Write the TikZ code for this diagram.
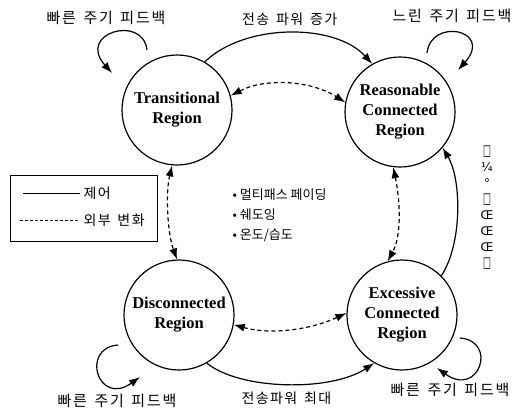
\documentclass[tikz,border=0pt]{standalone}
\usepackage{fontspec}
\setmainfont{Liberation Serif}
\newfontfamily\krfont{Noto Sans CJK KR}
\newfontfamily\krwide[LetterSpace=12]{Noto Sans CJK KR}
\newfontfamily\krmid[LetterSpace=10,WordSpace=1.5]{Noto Sans CJK KR}
\newfontfamily\symfont{DejaVu Sans}
\newcommand{\gap}{\hspace{.5em}}
\newcommand{\tallbox}{\scalebox{0.7}[1.25]{□}}
\usetikzlibrary{calc}
\usetikzlibrary{arrows.meta}

\begin{document}
\begin{tikzpicture}[x=1pt,y=-1pt,>={Latex[length=11pt,width=8pt]},
    region/.style={circle,draw,line width=1.2pt,minimum size=110pt,inner sep=0pt,align=center,
      font=\fontsize{16.5}{20}\selectfont\bfseries},
    ctrl/.style={->,line width=1.2pt},
    extern/.style={<->,line width=1.2pt,dash pattern=on 4pt off 3pt},
    fblabel/.style={font=\krwide\fontsize{15}{17}\selectfont},
    krlabel/.style={font=\krmid\fontsize{14}{17}\selectfont}]
    \useasboundingbox (0,0) rectangle (518,412);
    % four regions
    \node (T) [region] at (177,110) {Transitional\\Region};
    \node (R) [region] at (400,112) {Reasonable\\Connected\\Region};
    \node (D) [region] at (179,315) {Disconnected\\Region};
    \node (E) [region] at (402,315) {Excessive\\Connected\\Region};
    % control transitions
    \draw [ctrl] (T.60) .. controls (245,23) and (335,23) .. (R.120) node [pos=.5, above=3pt, krlabel] (incr) {전송 파워 증가};
    \draw [ctrl] (D.300) .. controls (240,390) and (330,392) .. (E.240) node [pos=.5, below=4pt, krlabel] (maxp) {전송파워 최대};
    \draw [ctrl] (E.45) .. controls (462,245) and (462,180) .. (R.-40);
    % external changes
    \draw [extern] (T.15) .. controls (265,78) and (310,80) .. (R.170);
    \draw [extern] (T.265) .. controls (165,195) and (168,235) .. (D.92);
    \draw [extern] (R.263) .. controls (400,200) and (402,235) .. (E.105);
    \draw [extern] (D.350) .. controls (270,335) and (310,330) .. (E.178);
    % feedback loops
    \path (T) +(-30,-60) coordinate (T-a) +(-65,-37) coordinate (T-b);
    \path (R) +(27,-59) coordinate (R-a) +(58,-42) coordinate (R-b);
    \path (D) +(-61,30) coordinate (D-a) +(-39,62) coordinate (D-b);
    \path (E) +(58,23) coordinate (E-a) +(35,53) coordinate (E-b);
    \draw [ctrl] (T-a) .. controls +(-4,-36) and +(-36,-40) .. (T-b);
    \draw [ctrl] (R-a) .. controls +(4,-36) and +(36,-40) .. (R-b);
    \draw [ctrl] (D-a) .. controls +(-38,3) and +(-42,30) .. (D-b);
    \draw [ctrl] (E-a) .. controls +(38,3) and +(42,30) .. (E-b);
    \node (fbT) [fblabel] at (106,18) {빠른\gap 주기\gap 피드백};
    \node (fbR) [fblabel] at (452,16) {느린\gap 주기\gap 피드백};
    \node (fbD) [fblabel] at (117,401) {빠른\gap 주기\gap 피드백};
    \node (fbE) [fblabel] at (450,390) {빠른\gap 주기\gap 피드백};
    % causes of change
    \node (causes) [anchor=west, align=left, font=\krfont\fontsize{13}{20}\selectfont] at (229,215) {• 멀티패스 페이딩\\• 쉐도잉\\• 온도/습도};
    % legend
    \node (legend) [draw, line width=0.9pt, minimum width=147pt, minimum height=66pt] at (83.5,208) {};
    \node (ctrltxt) [anchor=west, krlabel] at (80,193) {제어};
    \node (exttxt) [anchor=west, krlabel] at (80,220) {외부 변화};
    \coordinate (ctrlkey) at (23,193);
    \coordinate (extkey) at (20,220);
    \draw [line width=1pt] (ctrlkey) -- (ctrltxt.west);
    \draw [line width=1pt, dash pattern=on 3pt off 2pt] (extkey) -- (exttxt.west);
    % garbled side label
    \node (side) [align=center, inner sep=0pt, font=\symfont\fontsize{12}{16}\selectfont] at (487,208) {\tallbox\\¼\\°\\\tallbox\\Œ\\Œ\\Œ\\\tallbox};
\end{tikzpicture}
\end{document}
